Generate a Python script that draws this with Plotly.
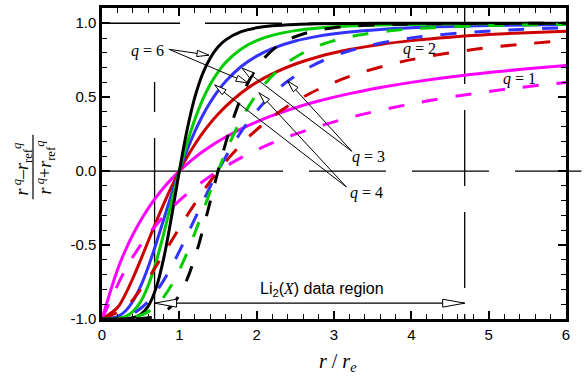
import plotly.graph_objects as go

# ---------------- data ----------------
x_solid = [0, 0.2, 0.3, 0.4, 0.5, 0.6, 0.7, 0.8, 0.9, 1.0, 1.1, 1.2, 1.3, 1.4, 1.5, 1.6,
           1.8, 2.0, 2.2, 2.5, 2.8, 3.2, 3.6, 4.0, 4.5, 5.0, 5.5, 6.0]
q1_solid = [-1, -0.6667, -0.5385, -0.4286, -0.3333, -0.25, -0.1765, -0.1111, -0.0526, 0,
            0.0476, 0.0909, 0.1304, 0.1667, 0.2, 0.2308, 0.2857, 0.3333, 0.375, 0.4286,
            0.4737, 0.5238, 0.5652, 0.6, 0.6364, 0.6667, 0.6923, 0.7143]
q2_solid = [-1, -0.9231, -0.8349, -0.7241, -0.6, -0.4706, -0.3423, -0.2195, -0.1050, 0,
            0.0950, 0.1803, 0.2565, 0.3243, 0.3846, 0.4382, 0.5283, 0.6, 0.6575, 0.7241,
            0.7738, 0.8221, 0.8567, 0.8824, 0.9059, 0.9231, 0.9360, 0.9459]
q3_solid = [-1, -0.9841, -0.9474, -0.8797, -0.7778, -0.6447, -0.4892, -0.3228, -0.1567, 0,
            0.1420, 0.2669, 0.3744, 0.4658, 0.5429, 0.6075, 0.7073, 0.7778, 0.8283, 0.8797,
            0.9129, 0.9408, 0.9580, 0.9692, 0.9783, 0.9841, 0.9881, 0.9908]
q4_solid = [-1, -0.9968, -0.9839, -0.9501, -0.8824, -0.7705, -0.6128, -0.4188, -0.2077, 0,
            0.1883, 0.3493, 0.4813, 0.5869, 0.6701, 0.7352, 0.8260, 0.8824, 0.9181, 0.9501,
            0.9680, 0.9811, 0.9882, 0.9922, 0.9951, 0.9968, 0.9978, 0.9985]
q6_solid = [-1, -0.9999, -0.9985, -0.9918, -0.9692, -0.9109, -0.7895, -0.5846, -0.3060, 0,
            0.2784, 0.4982, 0.6568, 0.7655, 0.8386, 0.8875, 0.9429, 0.9692, 0.9825, 0.9918,
            0.9959, 0.9981, 0.9991, 0.9995, 0.9998, 0.9999, 0.9999, 1.0]

x_dashed = [0, 0.3, 0.45, 0.6, 0.75, 0.9, 1.05, 1.2, 1.35, 1.5, 1.65, 1.8, 1.95, 2.1, 2.25,
            2.4, 2.7, 3.0, 3.3, 3.75, 4.2, 4.8, 5.4, 6.0]
q1_dashed = [-1, -0.6667, -0.5385, -0.4286, -0.3333, -0.25, -0.1765, -0.1111, -0.0526, 0,
             0.0476, 0.0909, 0.1304, 0.1667, 0.2, 0.2308, 0.2857, 0.3333, 0.375, 0.4286,
             0.4737, 0.5238, 0.5652, 0.6]
q2_dashed = [-1, -0.9231, -0.8349, -0.7241, -0.6, -0.4706, -0.3423, -0.2195, -0.1050, 0,
             0.0950, 0.1803, 0.2565, 0.3243, 0.3846, 0.4382, 0.5283, 0.6, 0.6575, 0.7241,
             0.7738, 0.8221, 0.8567, 0.8824]
q3_dashed = [-1, -0.9841, -0.9474, -0.8797, -0.7778, -0.6447, -0.4892, -0.3228, -0.1567, 0,
             0.1420, 0.2669, 0.3744, 0.4658, 0.5429, 0.6075, 0.7073, 0.7778, 0.8283, 0.8797,
             0.9129, 0.9408, 0.9580, 0.9692]
q4_dashed = [-1, -0.9968, -0.9839, -0.9501, -0.8824, -0.7705, -0.6128, -0.4188, -0.2077, 0,
             0.1883, 0.3493, 0.4813, 0.5869, 0.6701, 0.7352, 0.8260, 0.8824, 0.9181, 0.9501,
             0.9680, 0.9811, 0.9882, 0.9922]
q6_dashed = [-1, -0.9999, -0.9985, -0.9918, -0.9692, -0.9109, -0.7895, -0.5846, -0.3060, 0,
             0.2784, 0.4982, 0.6568, 0.7655, 0.8386, 0.8875, 0.9429, 0.9692, 0.9825, 0.9918,
             0.9959, 0.9981, 0.9991, 0.9995]

x_ticks = [0, 1, 2, 3, 4, 5, 6]
y_ticks = [-1, -0.5, 0, 0.5, 1]
y_ticktext = ["-1.0", "-0.5", "0.0", "0.5", "1.0"]

colors = {"q1": "#ff00ff", "q2": "#cc0000", "q3": "#3333ff", "q4": "#00cc00", "q6": "#000000"}

# ---------------- geometry ----------------
W_FIG, H_FIG = 588, 381
L, R, T, B = 102, 22, 5, 62
W = W_FIG - L - R
H = H_FIG - T - B
XMIN, XMAX = 0, 6
YMIN, YMAX = -1, 1.103


def px_x(x):
    return L + (x - XMIN) / (XMAX - XMIN) * W


def px_y(y):
    return T + (YMAX - y) / (YMAX - YMIN) * H


def to_paper(px, py):
    return (px - L) / W, 1 - (py - T) / H


fig = go.Figure()

solids = [("q1", q1_solid), ("q2", q2_solid), ("q3", q3_solid), ("q4", q4_solid), ("q6", q6_solid)]
dasheds = [("q1", q1_dashed), ("q2", q2_dashed), ("q3", q3_dashed), ("q4", q4_dashed), ("q6", q6_dashed)]

for name, ys in solids:
    fig.add_trace(go.Scatter(x=x_solid, y=ys, mode="lines",
                             line=dict(color=colors[name], width=3, shape="spline"),
                             showlegend=False, hoverinfo="skip"))
for name, ys in dasheds:
    fig.add_trace(go.Scatter(x=x_dashed, y=ys, mode="lines",
                             line=dict(color=colors[name], width=3, shape="spline", dash="16px,18px"),
                             showlegend=False, hoverinfo="skip"))

shapes = []


def ref_line(x0, y0, x1, y1, dash):
    a = to_paper(px_x(x0), px_y(y0))
    b = to_paper(px_x(x1), px_y(y1))
    shapes.append(dict(type="line", xref="paper", yref="paper", x0=a[0], y0=a[1], x1=b[0], y1=b[1],
                       line=dict(color="black", width=1.3, dash=dash), layer="below"))


# reference dashed lines
ref_line(0, 0, 6.2, 0, "181px,26px,77px,26px,77px,26px,77px,26px,77px")
ref_line(0, 1, 6, 1, "78px,25px,77px,26px,77px,26px,77px,26px")
ref_line(0.68, -1, 0.68, 0.603, "181px,26px,77px")
ref_line(4.69, YMAX, 4.69, -1, "76px,26px")


def add_head(tip, frm, hl, hw):
    tx, ty = px_x(tip[0]), px_y(tip[1])
    fx, fy = px_x(frm[0]), px_y(frm[1])
    dx, dy = tx - fx, ty - fy
    n = (dx * dx + dy * dy) ** 0.5
    ux, uy = dx / n, dy / n
    bx, by = tx - ux * hl, ty - uy * hl
    p1 = to_paper(tx, ty)
    p2 = to_paper(bx - uy * hw, by + ux * hw)
    p3 = to_paper(bx + uy * hw, by - ux * hw)
    path = "M %.5f,%.5f L %.5f,%.5f L %.5f,%.5f Z" % (p1[0], p1[1], p2[0], p2[1], p3[0], p3[1])
    shapes.append(dict(type="path", xref="paper", yref="paper", path=path,
                       fillcolor="white", line=dict(color="black", width=1), layer="above"))


def add_arrow(start, tip, hl=12, hw=3.2):
    a = to_paper(px_x(start[0]), px_y(start[1]))
    b = to_paper(px_x(tip[0]), px_y(tip[1]))
    shapes.append(dict(type="line", xref="paper", yref="paper", x0=a[0], y0=a[1], x1=b[0], y1=b[1],
                       line=dict(color="black", width=1), layer="above"))
    add_head(tip, start, hl, hw)


# q = 6 arrows
add_arrow((0.865, 0.824), (1.383, 0.784))
add_arrow((0.865, 0.824), (1.887, 0.596))
# q = 3 arrows
add_arrow((3.23, 0.134), (1.81, 0.697))
add_arrow((3.23, 0.134), (2.40, 0.61))
# q = 4 arrows
add_arrow((3.16, -0.107), (1.457, 0.583))
add_arrow((3.16, -0.107), (2.03, 0.53))

# data region double arrow
a = to_paper(px_x(0.68), px_y(-0.893))
b = to_paper(px_x(4.69), px_y(-0.893))
shapes.append(dict(type="line", xref="paper", yref="paper", x0=a[0], y0=a[1], x1=b[0], y1=b[1],
                   line=dict(color="black", width=1.2), layer="above"))
add_head((0.68, -0.893), (4.69, -0.893), 22, 4)
add_head((4.69, -0.893), (0.68, -0.893), 22, 4)

# y-title fraction bar
fb0 = to_paper(33, 133)
fb1 = to_paper(33, 198)
shapes.append(dict(type="line", xref="paper", yref="paper", x0=fb0[0], y0=fb0[1], x1=fb1[0], y1=fb1[1],
                   line=dict(color="black", width=1.2)))

serif = "Liberation Serif"
blk = "black"
annotations = [
    dict(x=0.59, y=0.81, text="<i>q</i> = 6", font=dict(family=serif, size=16, color=blk)),
    dict(x=3.45, y=0.094, text="<i>q</i> = 3", font=dict(family=serif, size=16, color=blk)),
    dict(x=3.42, y=-0.147, text="<i>q</i> = 4", font=dict(family=serif, size=16, color=blk)),
    dict(x=4.10, y=0.824, text="<i>q</i> = 2", font=dict(family=serif, size=16, color=blk)),
    dict(x=5.40, y=0.623, text="<i>q</i> = 1", font=dict(family=serif, size=16, color=blk)),
    dict(x=2.84, y=-0.80,
         text="Li<sub>2</sub>(<span style=\"font-family:Liberation Serif\"><i>X</i></span>) data region",
         font=dict(family="Liberation Sans", size=16, color=blk)),
]
for ann in annotations:
    ann.update(xref="x", yref="y", showarrow=False, xanchor="center", yanchor="middle")

nx, ny = to_paper(22, 168)
dx_, dy_ = to_paper(45, 166)
tx_, ty_ = to_paper(337, 363)
annotations += [
    dict(xref="paper", yref="paper", x=nx, y=ny, textangle=-90, showarrow=False,
         xanchor="center", yanchor="middle",
         text="<i>r</i><sup> <i>q</i></sup>\u2013<i>r</i><sub>ref</sub><sup><i>q</i></sup>",
         font=dict(family=serif, size=18, color=blk)),
    dict(xref="paper", yref="paper", x=dx_, y=dy_, textangle=-90, showarrow=False,
         xanchor="center", yanchor="middle",
         text="<i>r</i><sup> <i>q</i></sup>+<i>r</i><sub>ref</sub><sup><i>q</i></sup>",
         font=dict(family=serif, size=18, color=blk)),
    dict(xref="paper", yref="paper", x=tx_, y=ty_, showarrow=False,
         xanchor="center", yanchor="middle",
         text="<i>r</i> / <i>r</i><sub><i>e</i></sub>", font=dict(family=serif, size=20, color=blk)),
]

axis_common = dict(showline=True, linecolor="black", linewidth=2.5, mirror="allticks",
                   ticks="inside", ticklen=8, tickwidth=1.5, tickcolor="black",
                   showgrid=False, zeroline=False,
                   tickfont=dict(family="Liberation Sans", size=15, color="black"))

fig.update_layout(
    width=W_FIG, height=H_FIG,
    margin=dict(l=L, r=R, t=T, b=B),
    paper_bgcolor="white", plot_bgcolor="white",
    font=dict(color="black"),
    xaxis=dict(range=[XMIN, XMAX], tickmode="array", tickvals=x_ticks,
               minor=dict(dtick=0.2, tick0=0, ticks="inside", ticklen=5, tickwidth=1.2,
                          tickcolor="black", showgrid=False),
               **axis_common),
    yaxis=dict(range=[YMIN, YMAX], tickmode="array", tickvals=y_ticks, ticktext=y_ticktext,
               minor=dict(dtick=0.1, tick0=0, ticks="inside", ticklen=5, tickwidth=1.2,
                          tickcolor="black", showgrid=False),
               **axis_common),
    shapes=shapes,
    annotations=annotations,
    showlegend=False,
)

fig.write_html("out.html")
